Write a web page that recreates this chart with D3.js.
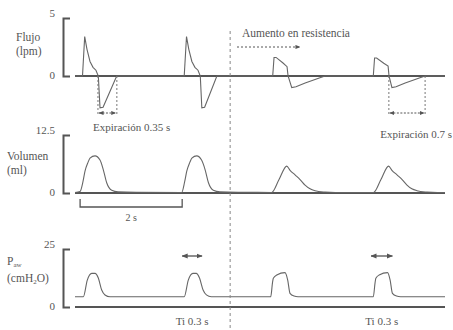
<!DOCTYPE html>
<html><head><meta charset="utf-8">
<script src="https://cdn.jsdelivr.net/npm/d3@7"></script>
<style>
body{margin:0;background:#fff;}
text{font-family:"Liberation Serif","Times New Roman",serif;fill:#555;}
</style></head>
<body>
<svg id="c" width="453" height="330"></svg>
<script>
// ---- data (time in s) ----
const flowTicks = [0, 5];
const volumeTicks = [0, 12.5];
const pressureTicks = [0, 25];
const flowSeries = [
 [0,0],[0.147,0],[0.19,3.4],[0.235,2.3],[0.294,1.25],[0.353,0.75],[0.41,0.5],[0.457,0],[0.49,-2.75],[0.55,-2.7],[0.817,0],
 [2.14,0],[2.185,3.4],[2.23,2.3],[2.29,1.25],[2.35,0.75],[2.41,0.5],[2.455,0],[2.485,-2.75],[2.54,-2.7],[2.78,0],
 [3.874,0],[3.9,1.6],[3.94,1.6],[4.076,1.12],[4.155,0.8],[4.175,0],[4.247,-1.0],[4.33,-0.92],[4.51,-0.6],[4.8,-0.15],[4.9,0],
 [5.845,0],[5.87,1.55],[5.91,1.55],[6.05,1.1],[6.135,0.85],[6.153,0],[6.21,-1.0],[6.29,-0.92],[6.47,-0.6],[6.76,-0.15],[6.86,0],
 [7.25,0]
];
const volumeSeries = [
 [0,0.1],[0.098,0.3],[0.157,2.5],[0.196,4.7],[0.255,6.6],[0.294,7.5],[0.392,8.0],[0.49,7.1],[0.555,5.0],[0.621,2.2],[0.719,0.6],[0.843,0.25],[1.2,0.15],
 [2.09,0.12],[2.15,2.5],[2.19,4.7],[2.25,6.6],[2.29,7.5],[2.385,8.0],[2.48,7.1],[2.55,5.0],[2.615,2.2],[2.71,0.6],[2.84,0.25],[3.2,0.15],
 [3.855,0.12],[3.998,2.9],[4.149,5.8],[4.214,4.9],[4.312,3.9],[4.41,2.9],[4.508,1.7],[4.606,0.9],[4.704,0.5],[4.9,0.2],[5.1,0.1],
 [5.85,0.12],[5.995,2.9],[6.145,5.8],[6.21,4.9],[6.31,3.9],[6.41,2.9],[6.505,1.7],[6.6,0.9],[6.7,0.5],[6.9,0.2],[7.1,0.1],[7.25,0.1]
];
const pressureSeries = [
 [0,4.4],[0.163,4.4],[0.241,11.6],[0.327,14.5],[0.392,14.5],[0.457,12.5],[0.523,7.3],[0.588,5.2],[0.686,4.4],
 [2.14,4.4],[2.22,11.6],[2.31,14.5],[2.375,14.5],[2.44,12.5],[2.51,7.3],[2.575,5.2],[2.67,4.4],
 [3.835,4.4],[3.87,10.5],[3.886,12.4],[3.953,13.8],[4.115,14.8],[4.168,11.6],[4.213,5.9],[4.292,4.7],[4.37,4.4],
 [5.845,4.4],[5.88,10.5],[5.895,12.4],[5.96,13.8],[6.125,14.8],[6.175,11.6],[6.22,5.9],[6.3,4.7],[6.38,4.4],
 [7.25,4.4]
];
const expirationIntervals = [[0.45,0.82],[6.15,6.86]];
const expirationLabels = ["Expiración 0.35 s","Expiración 0.7 s"];
const tiIntervals = [[2.10,2.49],[5.80,6.22]];
const tiLabels = ["Ti 0.3 s","Ti 0.3 s"];
const periodInterval = [0.1,2.1];
const periodLabel = "2 s";
const resistanceTime = 3.04;
const resistanceLabel = "Aumento en resistencia";

// ---- drawing ----
const svg = d3.select("#c");
const x = d3.scaleLinear().domain([0,7.25]).range([75,445]);
const yF = d3.scaleLinear().domain([0,5]).range([76,18]);
const yV = d3.scaleLinear().domain([0,12.5]).range([193,135]);
const yP = d3.scaleLinear().domain([0,25]).range([307,249]);
const lineCol = "#666", axisCol = "#555";

function panel(y, ticks, series, curve){
  const ax = d3.axisRight(y).tickValues([]).tickSizeOuter(7);
  const g = svg.append("g").attr("transform","translate(63,0)").call(ax);
  g.select(".domain").attr("stroke",axisCol).attr("stroke-width",2);
  svg.append("line").attr("x1",x(0)).attr("x2",x(7.25)).attr("y1",y(0)).attr("y2",y(0))
    .attr("stroke",axisCol).attr("stroke-width",1.8);
  svg.selectAll(null).data(ticks).enter().append("text")
    .attr("x",55).attr("y",d=>y(d)+ (d===0?3:-1)).attr("text-anchor","end")
    .attr("font-size",11).text(d=>d);
  svg.append("path").datum(series).attr("fill","none").attr("stroke",lineCol).attr("stroke-width",1.1)
    .attr("d",d3.line().x(d=>x(d[0])).y(d=>y(d[1])).curve(curve));
}
panel(yF, flowTicks, flowSeries, d3.curveLinear);
panel(yV, volumeTicks, volumeSeries, d3.curveMonotoneX);
panel(yP, pressureTicks, pressureSeries, d3.curveMonotoneX);

function label(xp, yp, txt){ return svg.append("text").attr("x",xp).attr("y",yp).attr("font-size",11.5).text(txt); }
label(16,41,"Flujo"); label(16,55,"(lpm)");
label(7,160,"Volumen"); label(7,174,"(ml)");
const pl = label(7,265,"P"); pl.append("tspan").attr("font-size",7).attr("dy",2).text("aw");
const cl = label(7,282,"(cmH"); cl.append("tspan").attr("font-size",7).attr("dy",2).text("2");
cl.append("tspan").attr("dy",-2).text("O)");

const defs = svg.append("defs");
defs.append("marker").attr("id","ah").attr("viewBox","0 0 6 6").attr("refX",5.5).attr("refY",3)
  .attr("markerWidth",5).attr("markerHeight",5).attr("orient","auto-start-reverse")
  .append("path").attr("d","M0,0.5L6,3L0,5.5Z").attr("fill","#555");

svg.append("line").attr("x1",x(resistanceTime)).attr("x2",x(resistanceTime)).attr("y1",31).attr("y2",330)
  .attr("stroke","#888").attr("stroke-width",1).attr("stroke-dasharray","3,3");
svg.append("text").attr("x",242).attr("y",37).attr("font-size",11.5).text(resistanceLabel);
svg.append("line").attr("x1",237).attr("x2",300).attr("y1",47).attr("y2",47)
  .attr("stroke","#555").attr("stroke-dasharray","2,2").attr("marker-end","url(#ah)");

expirationIntervals.forEach((iv,i)=>{
  iv.forEach(t=>svg.append("line").attr("x1",x(t)).attr("x2",x(t)).attr("y1",yF(0)).attr("y2",116)
    .attr("stroke","#777").attr("stroke-dasharray","2,2"));
  svg.append("line").attr("x1",x(iv[0])+1).attr("x2",x(iv[1])-1).attr("y1",113).attr("y2",113)
    .attr("stroke","#555").attr("stroke-dasharray","2,1.5")
    .attr("marker-start","url(#ah)").attr("marker-end","url(#ah)");
});
svg.append("text").attr("x",93).attr("y",131).attr("font-size",11).text(expirationLabels[0]);
svg.append("text").attr("x",452).attr("y",138).attr("font-size",11).attr("text-anchor","end").text(expirationLabels[1]);

svg.append("path").attr("fill","none").attr("stroke","#555").attr("stroke-width",1.3)
  .attr("d",`M${x(periodInterval[0])},199V207H${x(periodInterval[1])}V199`);
svg.append("text").attr("x",(x(periodInterval[0])+x(periodInterval[1]))/2).attr("y",221)
  .attr("text-anchor","middle").attr("font-size",10).text(periodLabel);

tiIntervals.forEach((iv,i)=>{
  svg.append("line").attr("x1",x(iv[0])).attr("x2",x(iv[1])).attr("y1",256).attr("y2",256)
    .attr("stroke","#444").attr("stroke-width",1.2)
    .attr("marker-start","url(#ah)").attr("marker-end","url(#ah)");
  svg.append("text").attr("x",(x(iv[0])+x(iv[1]))/2).attr("y",325).attr("text-anchor","middle")
    .attr("font-size",11).text(tiLabels[i]);
});
</script>
</body></html>
